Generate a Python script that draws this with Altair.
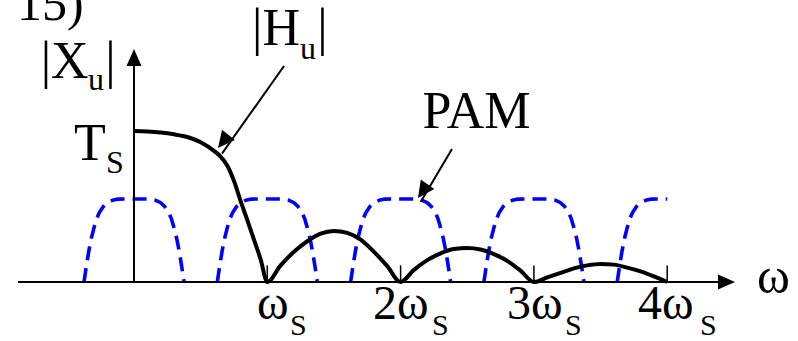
import altair as alt
import pandas as pd

# ---- data (ω in units of ωs, magnitude in units of Ts) ----
hu_w = [0.0, 0.1, 0.2, 0.3, 0.4, 0.5, 0.6, 0.65, 0.7, 0.75, 0.8, 0.85, 0.9, 0.95, 1.0,
        1.1, 1.2, 1.3, 1.4, 1.5, 1.6, 1.7, 1.8, 1.9, 2.0,
        2.1, 2.2, 2.3, 2.4, 2.5, 2.6, 2.7, 2.8, 2.9, 3.0,
        3.1, 3.2, 3.3, 3.4, 3.5, 3.6, 3.7, 3.8, 3.9, 4.0]
hu_v = [1.0, 0.997, 0.99, 0.978, 0.96, 0.925, 0.868, 0.83, 0.77, 0.67, 0.535, 0.41, 0.28, 0.15, 0.0,
        0.11, 0.2, 0.27, 0.32, 0.338, 0.325, 0.28, 0.2, 0.105, 0.0,
        0.08, 0.145, 0.19, 0.218, 0.225, 0.215, 0.185, 0.14, 0.075, 0.0,
        0.03, 0.06, 0.09, 0.11, 0.12, 0.115, 0.095, 0.07, 0.037, 0.0]

# PAM spectrum replica profile (offset from centre, magnitude)
pam_off = [-0.375, -0.36, -0.34, -0.32, -0.30, -0.28, -0.26, -0.23, -0.2, -0.16, -0.12, -0.06, 0.0,
           0.06, 0.12, 0.16, 0.2, 0.23, 0.26, 0.28, 0.30, 0.32, 0.34, 0.36, 0.375]
pam_val = [0.0, 0.09, 0.2, 0.29, 0.36, 0.42, 0.46, 0.5, 0.525, 0.542, 0.549, 0.55, 0.55,
           0.55, 0.549, 0.542, 0.525, 0.5, 0.46, 0.42, 0.36, 0.29, 0.2, 0.09, 0.0]
pam_centers = [0, 1, 2, 3, 4]
pam_max_off = [0.375, 0.375, 0.375, 0.375, 0.0]

tick_w = [1, 2, 3, 4]
tick_main = ["ω", "2ω", "3ω", "4ω"]

# ---- tables ----
hu_df = pd.DataFrame({"w": hu_w, "v": hu_v})
pam_rows = []
for k, (c, mx) in enumerate(zip(pam_centers, pam_max_off)):
    for o, val in zip(pam_off, pam_val):
        if o <= mx + 1e-9:
            pam_rows.append({"w": c + o, "v": val, "rep": k, "o": o})
pam_df = pd.DataFrame(pam_rows)

XMIN, XMAX = -1.00525, 4.98125
YMIN, YMAX = -0.39073, 1.86755
xs = alt.Scale(domain=[XMIN, XMAX], nice=False, zero=False)
ys = alt.Scale(domain=[YMIN, YMAX], nice=False, zero=False)

def X(f="w"):
    return alt.X(f"{f}:Q", scale=xs, axis=None)

def Y(f="v"):
    return alt.Y(f"{f}:Q", scale=ys, axis=None)

# axis lines
axes_df = pd.DataFrame({
    "w": [-0.87, 0.0], "v": [0.0, 0.0],
    "w2": [4.42, 0.0], "v2": [0.0, 1.43],
})
axes = alt.Chart(axes_df).mark_rule(color="black", strokeWidth=2).encode(
    x=X(), y=Y(), x2="w2:Q", y2="v2:Q")

ticks_df = pd.DataFrame({"w": tick_w, "v": [0.0] * 4, "v2": [0.11] * 4})
ticks = alt.Chart(ticks_df).mark_rule(color="black", strokeWidth=1.5).encode(
    x=X(), y=Y(), y2="v2:Q")

# annotation arrow shafts
ann_df = pd.DataFrame({
    "w": [1.1253, 2.3856], "v": [1.4305, 0.8808],
    "w2": [0.66, 2.15], "v2": [0.85, 0.53],
})
ann = alt.Chart(ann_df).mark_rule(color="black", strokeWidth=2).encode(
    x=X(), y=Y(), x2="w2:Q", y2="v2:Q")

head_axis = "M 0 0 L -2 -0.88 L -2 0.88 Z"
head_ann = "M 0 0 L -2 -0.98 L -2 0.98 Z"
heads_axis_df = pd.DataFrame({"w": [4.5086, 0.0], "v": [0.0, 1.543], "ang": [0, 270]})
heads_axis = alt.Chart(heads_axis_df).mark_point(
    shape=head_axis, filled=True, color="black", size=289, opacity=1, strokeWidth=0
).encode(x=X(), y=Y(), angle=alt.Angle("ang:Q", scale=None))
heads_ann_df = pd.DataFrame({"w": [0.6302, 2.1305], "v": [0.8874, 0.5563], "ang": [128.8, 124.8]})
heads_ann = alt.Chart(heads_ann_df).mark_point(
    shape=head_ann, filled=True, color="black", size=279, opacity=1, strokeWidth=0
).encode(x=X(), y=Y(), angle=alt.Angle("ang:Q", scale=None))

pam = alt.Chart(pam_df).mark_line(color="#0000ff", strokeWidth=3.6, strokeDash=[14, 8]).encode(
    x=X(), y=Y(), detail="rep:N", order="o:Q")

hu = alt.Chart(hu_df).mark_line(color="black", strokeWidth=4, interpolate="monotone").encode(
    x=X(), y=Y())

# text annotations
txt_rows = [
    # text, w, v, size
    ("15)", -0.878, 1.735, 50),
    ("|X", -0.70, 1.351, 52),
    ("u", -0.345, 1.272, 32),
    ("|", -0.215, 1.351, 52),
    ("T", -0.45, 0.808, 52),
    ("S", -0.21, 0.722, 32),
    ("|H", 0.885, 1.570, 52),
    ("u", 1.245, 1.48, 32),
    ("|", 1.375, 1.570, 52),
    ("PAM", 2.165, 1.02, 52),
    ("ω", 4.674, -0.073, 50),
]
lab_left = [257, 373, 507, 638]
sub_left = [290, 432, 565, 700]
for t, l, s in zip(tick_main, lab_left, sub_left):
    txt_rows.append((t, (l - 134) / 133.3, (282 - 319) / 151, 48))
    txt_rows.append(("S", (s - 134) / 133.3, (282 - 335) / 151, 30))
txt_df = pd.DataFrame(txt_rows, columns=["t", "w", "v", "size"])
texts = alt.Chart(txt_df).mark_text(
    align="left", baseline="alphabetic", font="Liberation Serif", color="black"
).encode(x=X(), y=Y(), text="t:N", size=alt.Size("size:Q", scale=None))

chart = alt.layer(pam, axes, ticks, hu, ann, heads_axis, heads_ann, texts).properties(
    width=798, height=341, padding=0, autosize="none", background="white"
).configure_view(stroke=None)

chart.save("out.html", embed_options={"renderer": "svg", "actions": False})
